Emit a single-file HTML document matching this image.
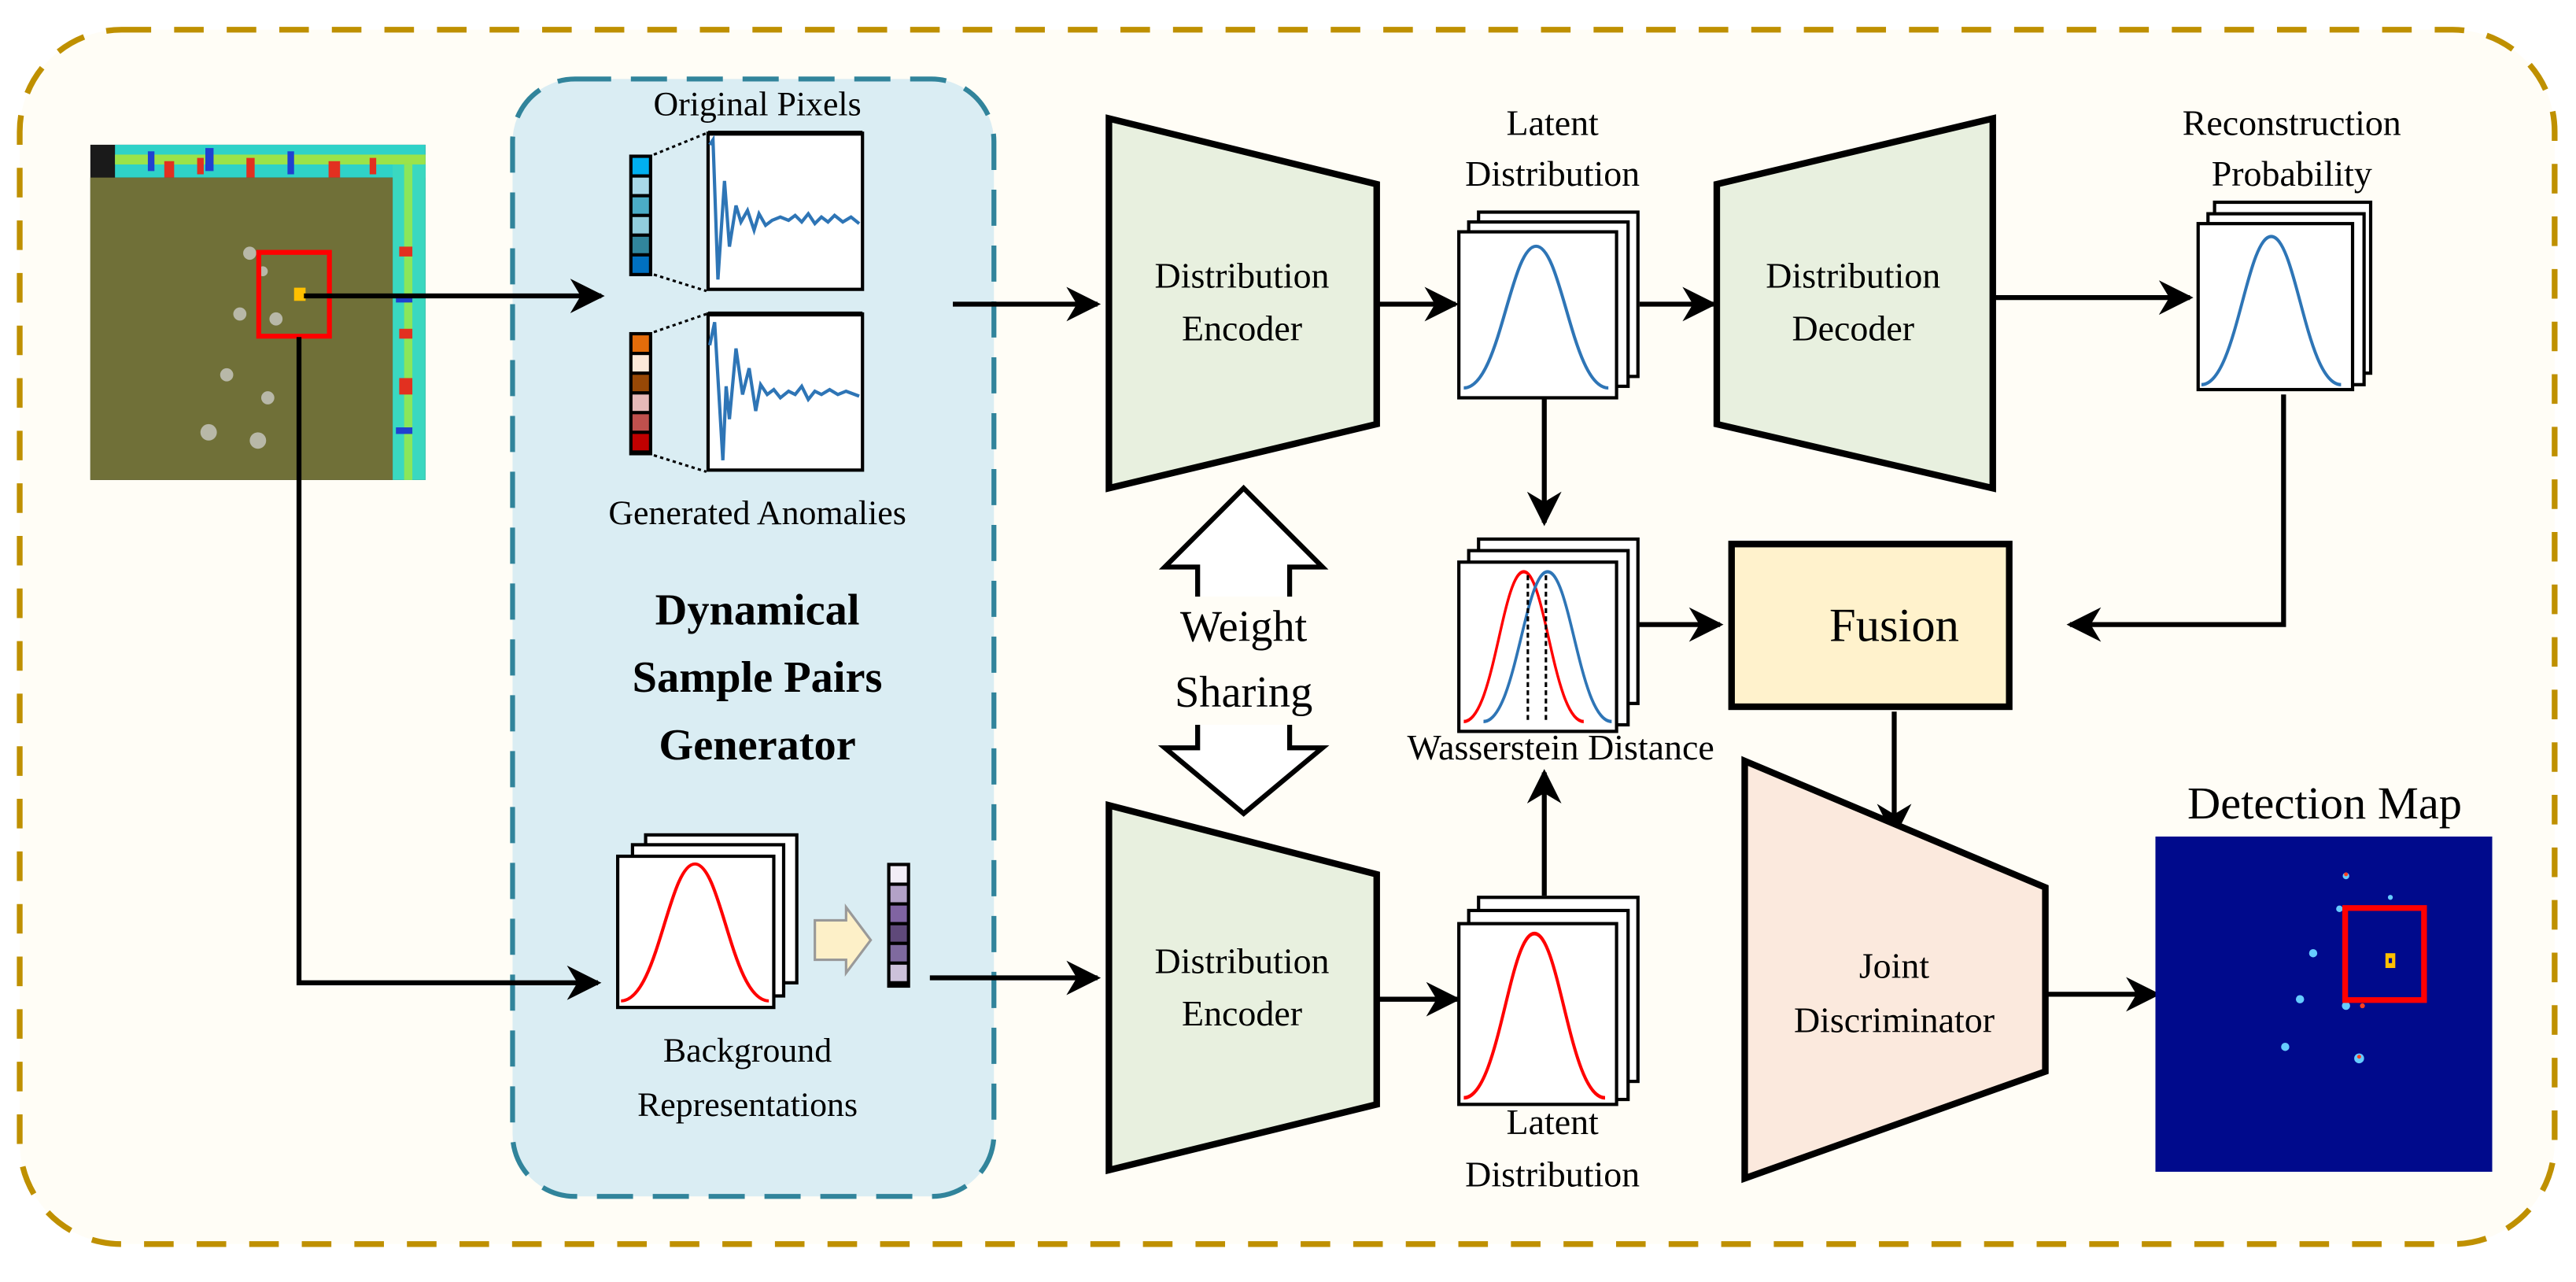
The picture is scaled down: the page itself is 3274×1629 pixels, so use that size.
<!DOCTYPE html>
<html><head><meta charset="utf-8"><style>
html,body{margin:0;padding:0;background:#fff;}
svg{display:block;}
</style></head><body>
<svg width="3274" height="1629" viewBox="0 0 1568 780" xmlns="http://www.w3.org/2000/svg" font-family="'Liberation Serif','Times New Roman',serif">
<defs>
<marker id="ah" viewBox="0 0 10 10" refX="9" refY="5" markerWidth="7" markerHeight="7" orient="auto" markerUnits="strokeWidth">
<path d="M0,0 L10,5 L0,10 L3,5 z" fill="#000"/></marker>
<g id="bell"><path d="M0,100 C25,100 32,2 50,2 C68,2 75,100 100,100" fill="none" stroke-width="2.2"/></g>
</defs>
<rect width="1568" height="780" fill="#fff"/>
<rect x="12" y="18" width="1543" height="739" rx="62" fill="#fffdf6" stroke="#bf9000" stroke-width="3.5" stroke-dasharray="18,14"/>

<!-- input image -->
<g>
<rect x="55" y="88" width="204" height="204" fill="#1a1a1a"/>
<rect x="70" y="88" width="189" height="20" fill="#2fd2c8"/>
<rect x="70" y="94" width="189" height="6" fill="#9be34a"/>
<rect x="239" y="100" width="20" height="192" fill="#3ad8c0"/>
<rect x="246" y="100" width="5" height="192" fill="#8be65a"/>
<g fill="#e23020"><rect x="100" y="98" width="6" height="10"/><rect x="150" y="96" width="5" height="12"/><rect x="200" y="98" width="7" height="10"/><rect x="243" y="150" width="8" height="6"/><rect x="243" y="230" width="8" height="10"/><rect x="120" y="96" width="4" height="10"/><rect x="225" y="96" width="4" height="10"/><rect x="243" y="200" width="8" height="6"/></g>
<g fill="#2040d0"><rect x="125" y="90" width="5" height="14"/><rect x="175" y="92" width="4" height="14"/><rect x="241" y="180" width="10" height="4"/><rect x="241" y="260" width="10" height="4"/><rect x="90" y="92" width="4" height="12"/></g>
<rect x="55" y="108" width="184" height="184" fill="#6a6a34"/>
<rect x="55" y="108" width="184" height="184" fill="#7b7a3e" opacity="0.4"/>
<g fill="#b8b8a8"><circle cx="152" cy="154" r="4"/><circle cx="160" cy="165" r="3"/><circle cx="146" cy="191" r="4"/><circle cx="168" cy="194" r="4"/><circle cx="138" cy="228" r="4"/><circle cx="163" cy="242" r="4"/><circle cx="127" cy="263" r="5"/><circle cx="157" cy="268" r="5"/></g>
<rect x="157.5" y="153.5" width="43" height="51" fill="none" stroke="#ff0000" stroke-width="3"/>
<rect x="179" y="175" width="7" height="8" fill="#ffc000"/>
</g>

<!-- generator panel -->
<rect x="312" y="48" width="293" height="680" rx="38" fill="#daedf3" stroke="#31849b" stroke-width="3" stroke-dasharray="22,12"/>
<text x="461" y="70" font-size="21" text-anchor="middle">Original Pixels</text>
<rect x="383" y="94" width="14" height="74" fill="#000"/>
<g><rect x="385" y="96" width="10" height="10" fill="#00b0f0"/><rect x="385" y="108" width="10" height="10" fill="#a8d8e8"/><rect x="385" y="120" width="10" height="10" fill="#4bacc6"/><rect x="385" y="132" width="10" height="10" fill="#92cddc"/><rect x="385" y="144" width="10" height="10" fill="#31859c"/><rect x="385" y="156" width="10" height="10" fill="#0070c0"/></g>
<line x1="398" y1="94" x2="430" y2="81" stroke="#000" stroke-dasharray="2,2" stroke-width="1.5"/>
<line x1="398" y1="167" x2="430" y2="177" stroke="#000" stroke-dasharray="2,2" stroke-width="1.5"/>
<rect x="431" y="81" width="94" height="95" fill="#fff" stroke="#000" stroke-width="2"/>
<line x1="431" y1="81" x2="525" y2="81" stroke="#000" stroke-width="3"/>
<polyline points="432,88 434,85 437,170 441,110 444,150 448,125 451,135 455,128 459,140 462,130 466,137 470,134 475,132 480,134 484,131 488,135 492,130 496,136 500,132 504,135 508,131 513,135 518,132 523,136" fill="none" stroke="#2e75b6" stroke-width="2"/>
<rect x="383" y="202" width="14" height="75" fill="#000"/>
<g><rect x="385" y="204" width="10" height="10" fill="#e36c0a"/><rect x="385" y="216" width="10" height="10" fill="#fde9d9"/><rect x="385" y="228" width="10" height="10" fill="#974806"/><rect x="385" y="240" width="10" height="10" fill="#e6b9b8"/><rect x="385" y="252" width="10" height="10" fill="#c0504d"/><rect x="385" y="264" width="10" height="10" fill="#c00000"/></g>
<line x1="398" y1="202" x2="430" y2="191" stroke="#000" stroke-dasharray="2,2" stroke-width="1.5"/>
<line x1="398" y1="277" x2="430" y2="287" stroke="#000" stroke-dasharray="2,2" stroke-width="1.5"/>
<rect x="431" y="191" width="94" height="95" fill="#fff" stroke="#000" stroke-width="2"/>
<line x1="431" y1="191" x2="525" y2="191" stroke="#000" stroke-width="3"/>
<polyline points="432,210 435,196 440,280 442,235 444,255 448,212 452,240 456,224 460,250 463,234 467,240 471,237 475,242 480,238 484,240 488,235 492,243 496,238 500,240 505,237 510,240 515,238 523,241" fill="none" stroke="#2e75b6" stroke-width="2"/>
<text x="461" y="319" font-size="21" text-anchor="middle">Generated Anomalies</text>
<g font-size="27" font-weight="bold" text-anchor="middle"><text x="461" y="380">Dynamical</text><text x="461" y="421">Sample Pairs</text><text x="461" y="462">Generator</text></g>
<!-- background stack -->
<g stroke="#000" stroke-width="2" fill="#fff">
<rect x="393" y="508" width="92" height="90"/><rect x="385" y="514" width="92" height="92"/><rect x="376" y="521" width="95" height="92"/></g>
<g stroke="#ff0000"><use href="#bell" transform="translate(378,524) scale(0.9,0.85)"/></g>
<path d="M496,560 L515,560 L515,552 L530,572 L515,592 L515,584 L496,584 z" fill="#fdf0c8" stroke="#999" stroke-width="1.5"/>
<rect x="540" y="525" width="14" height="76" fill="#000"/>
<g><rect x="542" y="527" width="10" height="10" fill="#f2eef6"/><rect x="542" y="539" width="10" height="10" fill="#b3a2c7"/><rect x="542" y="551" width="10" height="10" fill="#8064a2"/><rect x="542" y="563" width="10" height="10" fill="#5f497a"/><rect x="542" y="575" width="10" height="10" fill="#7f6a9f"/><rect x="542" y="587" width="10" height="10" fill="#ccc1da"/></g>
<text x="455" y="646" font-size="21" text-anchor="middle">Background</text>
<text x="455" y="679" font-size="21" text-anchor="middle">Representations</text>

<!-- arrows -->
<g stroke="#000" stroke-width="3" fill="none">
<line x1="185" y1="180" x2="366" y2="180" marker-end="url(#ah)"/>
<polyline points="182,205 182,598 364,598" marker-end="url(#ah)"/>
<line x1="580" y1="185" x2="668" y2="185" marker-end="url(#ah)"/>
<line x1="566" y1="595" x2="668" y2="595" marker-end="url(#ah)"/>
<line x1="838" y1="185" x2="886" y2="185" marker-end="url(#ah)"/>
<line x1="998" y1="185" x2="1043" y2="185" marker-end="url(#ah)"/>
<line x1="1213" y1="181" x2="1333" y2="181" marker-end="url(#ah)"/>
<polyline points="1390,240 1390,380 1260,380" marker-end="url(#ah)"/>
<line x1="940" y1="242" x2="940" y2="318" marker-end="url(#ah)"/>
<line x1="985" y1="380" x2="1047" y2="380" marker-end="url(#ah)"/>
<line x1="838" y1="608" x2="887" y2="608" marker-end="url(#ah)"/>
<line x1="940" y1="545" x2="940" y2="470" marker-end="url(#ah)"/>
<line x1="1153" y1="433" x2="1153" y2="508" marker-end="url(#ah)"/>
<line x1="1245" y1="605" x2="1313" y2="605" marker-end="url(#ah)"/>
</g>

<!-- encoders/decoder -->
<g stroke="#000" stroke-width="4" fill="#e8f0df">
<polygon points="675,72 838,112 838,258 675,297"/>
<polygon points="1045,112 1213,72 1213,297 1045,258"/>
<polygon points="675,490 838,532 838,672 675,712"/>
</g>
<polygon points="1062,463 1245,540 1245,652 1062,717" fill="#fbe9dd" stroke="#000" stroke-width="4"/>
<g font-size="22" text-anchor="middle">
<text x="756" y="175">Distribution</text><text x="756" y="207">Encoder</text>
<text x="1128" y="175">Distribution</text><text x="1128" y="207">Decoder</text>
<text x="756" y="592">Distribution</text><text x="756" y="624">Encoder</text>
<text x="1153" y="595">Joint</text><text x="1153" y="628">Discriminator</text>
<text x="945" y="82">Latent</text><text x="945" y="113">Distribution</text>
<text x="1395" y="82">Reconstruction</text><text x="1395" y="113">Probability</text>
<text x="950" y="462">Wasserstein Distance</text>
<text x="945" y="690">Latent</text><text x="945" y="722">Distribution</text>
</g>

<!-- stacks -->
<g stroke="#000" stroke-width="2" fill="#fff">
<rect x="900" y="129" width="97" height="100"/><rect x="894" y="135" width="97" height="100"/><rect x="888" y="141" width="96" height="101"/>
<rect x="1348" y="123" width="95" height="104"/><rect x="1344" y="130" width="95" height="104"/><rect x="1338" y="136" width="94" height="101"/>
<rect x="900" y="328" width="97" height="100"/><rect x="894" y="335" width="97" height="106"/><rect x="888" y="342" width="96" height="103"/>
<rect x="900" y="546" width="97" height="112"/><rect x="894" y="554" width="97" height="115"/><rect x="888" y="562" width="96" height="110"/>
</g>
<g stroke="#2e75b6"><use href="#bell" transform="translate(891,148) scale(0.88,0.88)"/><use href="#bell" transform="translate(1340,142) scale(0.85,0.92)"/></g>
<g stroke="#ff0000"><use href="#bell" transform="translate(891,566) scale(0.86,1.02)"/><use href="#bell" transform="translate(891,346) scale(0.73,0.93)"/></g>
<g stroke="#2e75b6"><use href="#bell" transform="translate(903,346) scale(0.78,0.93)"/></g>
<line x1="930" y1="350" x2="930" y2="440" stroke="#000" stroke-width="1.5" stroke-dasharray="3,2"/>
<line x1="941" y1="350" x2="941" y2="440" stroke="#000" stroke-dasharray="3,2" stroke-width="1.5"/>

<!-- weight sharing -->
<polygon points="757,297 805,345 785,345 785,455 805,455 757,495 709,455 729,455 729,345 709,345" fill="#fff" stroke="#000" stroke-width="3"/>
<rect x="695" y="363" width="124" height="78" fill="#fffdf6"/>
<text x="757" y="390" font-size="27" text-anchor="middle">Weight</text>
<text x="757" y="430" font-size="27" text-anchor="middle">Sharing</text>

<!-- fusion -->
<rect x="1054" y="331" width="169" height="99" fill="#fff2cc" stroke="#000" stroke-width="4"/>
<text x="1153" y="390" font-size="29" text-anchor="middle">Fusion</text>

<!-- detection map -->
<text x="1415" y="498" font-size="28" text-anchor="middle">Detection Map</text>
<rect x="1312" y="509" width="205" height="204" fill="#000a8c"/>
<g fill="#6cf"><circle cx="1428" cy="533" r="2"/><circle cx="1424" cy="553" r="2"/><circle cx="1408" cy="580" r="2.5"/><circle cx="1400" cy="608" r="2.5"/><circle cx="1428" cy="612" r="2.5"/><circle cx="1391" cy="637" r="2.5"/><circle cx="1436" cy="644" r="3"/><circle cx="1455" cy="546" r="1.5"/></g>
<g fill="#ff4020"><circle cx="1428" cy="532" r="1.2"/><circle cx="1438" cy="612" r="1.5"/><circle cx="1436" cy="643" r="1.2"/></g>
<rect x="1427.5" y="552.5" width="48" height="56" fill="none" stroke="#ff0000" stroke-width="3.5"/>
<rect x="1452" y="580" width="6" height="9" fill="#ffc000"/>
<rect x="1454" y="583" width="2" height="3" fill="#000a8c"/>
</svg>
</body></html>
